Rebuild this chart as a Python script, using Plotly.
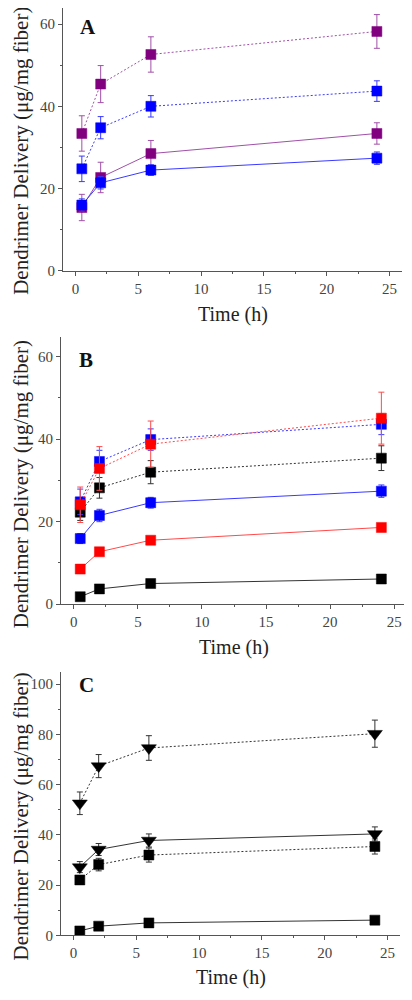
import plotly.graph_objects as go

time_h = [0.5, 2, 6, 24]

# Panel A
a_purple_dot = [33.4, 45.4, 52.6, 58.2]
a_purple_dot_err = [4.3, 4.5, 4.3, 4.1]
a_blue_dot = [24.8, 34.8, 40.0, 43.7]
a_blue_dot_err = [3.1, 2.7, 2.6, 2.5]
a_purple_solid = [15.4, 22.7, 28.5, 33.4]
a_purple_solid_err = [3.2, 3.7, 3.2, 2.6]
a_blue_solid = [16.0, 21.4, 24.5, 27.4]
a_blue_solid_err = [1.5, 1.5, 1.3, 1.5]

# Panel B
b_blue_dot = [24.8, 34.6, 39.9, 43.6]
b_blue_dot_err = [3.1, 2.7, 2.6, 2.5]
b_red_dot = [24.1, 32.9, 38.8, 45.1]
b_red_dot_err = [4.3, 5.3, 5.6, 6.3]
b_black_dot = [22.3, 28.2, 32.0, 35.4]
b_black_dot_err = [2.0, 2.5, 2.8, 3.0]
b_blue_solid = [15.9, 21.5, 24.6, 27.4]
b_blue_solid_err = [1.2, 1.5, 1.3, 1.5]
b_red_solid = [8.5, 12.7, 15.5, 18.6]
b_red_solid_err = [0.6, 0.6, 0.6, 0.6]
b_black_solid = [1.8, 3.7, 5.0, 6.1]
b_black_solid_err = [0.3, 0.3, 0.3, 0.3]

# Panel C
c_tri_dot = [52.6, 67.4, 74.6, 80.3]
c_tri_dot_err = [4.5, 4.6, 4.9, 5.4]
c_tri_solid = [27.2, 34.2, 37.8, 40.4]
c_tri_solid_err = [2.2, 2.4, 2.6, 2.8]
c_sq_dot = [22.1, 28.2, 32.0, 35.4]
c_sq_dot_err = [1.5, 2.5, 2.8, 3.0]
c_sq_solid = [1.8, 3.7, 5.0, 6.1]
c_sq_solid_err = [0.3, 0.3, 0.3, 0.3]

x_ticks = [0, 5, 10, 15, 20, 25]

PURPLE = ("#800080", "#a050a8")
BLUE = ("#0000ff", "#3a3aff")
RED = ("#ff0000", "#ff4a4a")
BLACK = ("#000000", "#333333")
SERIF = "Liberation Serif"
DOT = "2px,2px"

fig = go.Figure()


def add(y, err, color, dash, xa, ya, symbol="square", size=10):
    mc, lc = color
    fig.add_trace(go.Scatter(
        x=time_h, y=y, mode="lines+markers",
        line=dict(color=lc, width=1, dash=dash),
        marker=dict(symbol=symbol, size=size, color=mc,
                    line=dict(color=mc, width=0.5)),
        error_y=dict(type="data", array=err, visible=True, color=lc,
                     thickness=1, width=3),
        xaxis=xa, yaxis=ya, showlegend=False,
    ))


# A
add(a_purple_dot, a_purple_dot_err, PURPLE, DOT, "x", "y")
add(a_blue_dot, a_blue_dot_err, BLUE, DOT, "x", "y")
add(a_purple_solid, a_purple_solid_err, PURPLE, "solid", "x", "y")
add(a_blue_solid, a_blue_solid_err, BLUE, "solid", "x", "y")
# B
add(b_black_solid, b_black_solid_err, BLACK, "solid", "x2", "y2")
add(b_red_solid, b_red_solid_err, RED, "solid", "x2", "y2")
add(b_blue_solid, b_blue_solid_err, BLUE, "solid", "x2", "y2")
add(b_black_dot, b_black_dot_err, BLACK, DOT, "x2", "y2")
add(b_blue_dot, b_blue_dot_err, BLUE, DOT, "x2", "y2")
add(b_red_dot, b_red_dot_err, RED, DOT, "x2", "y2")
# C
add(c_sq_solid, c_sq_solid_err, BLACK, "solid", "x3", "y3")
add(c_sq_dot, c_sq_dot_err, BLACK, DOT, "x3", "y3")
add(c_tri_solid, c_tri_solid_err, BLACK, "solid", "x3", "y3", "triangle-down", 13)
add(c_tri_dot, c_tri_dot_err, BLACK, DOT, "x3", "y3", "triangle-down", 13)

# page has an 8px body margin; figure size and coordinates compensate
OFF = 8
W, H = 412 - OFF, 1000 - OFF


def px(x):
    return (x - OFF) / W


def py(y):
    return 1 - (y - OFF) / H


def xaxis(x0, x1, anchor):
    return dict(domain=[px(x0), px(x1)], range=[-1, 26], anchor=anchor,
                tickvals=x_ticks, ticks="outside", ticklen=4, tickwidth=1,
                tickcolor="#555", showline=True, linecolor="#555", linewidth=1,
                showgrid=False, zeroline=False,
                tickfont=dict(family=SERIF, size=15, color="#444"),
                minor=dict(dtick=2.5, tick0=0, ticks="outside", ticklen=2,
                           tickcolor="#555"))


def yaxis(ytop, ybot, rng, anchor):
    return dict(domain=[py(ybot), min(1.0, py(ytop))], range=rng, anchor=anchor,
                dtick=20, tick0=0, ticks="outside", ticklen=4, tickwidth=1,
                tickcolor="#555", showline=True, linecolor="#555", linewidth=1,
                showgrid=False, zeroline=False,
                tickfont=dict(family=SERIF, size=15, color="#444"),
                minor=dict(dtick=10, tick0=0, ticks="outside", ticklen=2,
                           tickcolor="#555"))


panels = [
    # (xleft, xright, ytop, ybottom, yrange, letter, xtitle_y, ytitle_y, letter_y)
    (63, 402, 8, 273, [0, 63.9], "A", 317, 152, 27),
    (61, 407, 340, 609, [0, 64.7], "B", 653, 488, 363),
    (61, 400, 677, 943, [0, 105], "C", 985, 823, 691),
]

annotations = []
for i, (xl, xr, yt, yb, rng, letter, xty, yty, ly) in enumerate(panels):
    sfx = "" if i == 0 else str(i + 1)
    fig.layout["xaxis" + sfx] = xaxis(xl, xr, "y" + sfx)
    fig.layout["yaxis" + sfx] = yaxis(yt, yb, rng, "x" + sfx)
    annotations.append(dict(
        text="<b>" + letter + "</b>", xref="paper", yref="paper",
        x=px(xl + 25), y=py(ly), xanchor="center", yanchor="middle",
        showarrow=False, font=dict(family=SERIF, size=21, color="#111"),
        bgcolor="white"))
    annotations.append(dict(
        text="Time (h)", xref="paper", yref="paper", x=px((xl + xr) / 2),
        y=py(xty), xanchor="center", yanchor="middle", showarrow=False,
        font=dict(family=SERIF, size=20, color="#222")))
    annotations.append(dict(
        text="Dendrimer Delivery (μg/mg fiber)", xref="paper", yref="paper",
        x=px(21), y=py(yty), xanchor="center", yanchor="middle",
        textangle=-90, showarrow=False,
        font=dict(family=SERIF, size=21, color="#222")))

fig.update_layout(
    width=W, height=H, margin=dict(l=0, r=0, t=0, b=0),
    paper_bgcolor="white", plot_bgcolor="white",
    annotations=annotations,
)

fig.write_html("out.html")
